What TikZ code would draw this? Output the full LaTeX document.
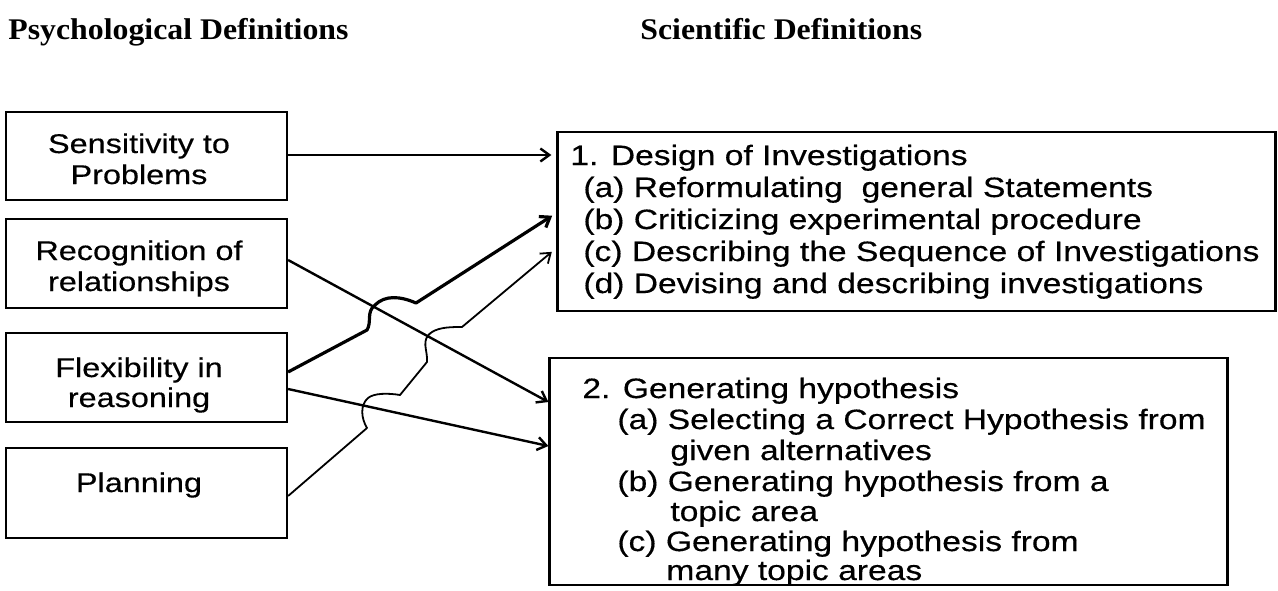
\documentclass[tikz,border=0pt]{standalone}
\usepackage{fontspec}
\setmainfont{Liberation Sans}
\newfontfamily\bodyfont[FakeStretch=1.2,FakeBold=0.4]{Liberation Sans}
\newfontfamily\headfont[FakeStretch=1.06]{Liberation Serif}
\usetikzlibrary{arrows.meta}
\begin{document}
\begin{tikzpicture}[x=0.5pt,y=-0.5pt,
  box/.style={draw, line width=1.1pt, rectangle, inner sep=0pt},
  lbox/.style={box, minimum width=140.5pt},
  txt/.style={inner sep=0pt, font=\bodyfont\fontsize{14}{16}\selectfont},
  ltxt/.style={inner sep=0pt, anchor=base, font=\bodyfont\fontsize{13.5}{15}\selectfont},
  rtxt/.style={txt, anchor=base west},
  head/.style={inner sep=0pt, anchor=base west, font=\headfont\bfseries\fontsize{15}{17}\selectfont},
  conn/.style={line width=1.2pt, line join=round, -{Straight Barb[length=4.5pt,width=6.5pt]}},
  thick conn/.style={conn, line width=1.6pt},
  thin conn/.style={conn, line width=0.9pt}
]
\useasboundingbox (0,0) rectangle (1278,590);
\fill[white] (0,0) rectangle (1278,590);

% titles
\node[head] (t1) at (8,39) {Psychological Definitions};
\node[head] (t2) at (640,39) {Scientific Definitions};

% left boxes
\node[lbox, minimum height=44pt]   (s) at (146.5,156)   {};
\node[lbox, minimum height=44.5pt] (r) at (146.5,263.5) {};
\node[lbox, minimum height=44.5pt] (f) at (146.5,377.5) {};
\node[lbox, minimum height=45pt]   (p) at (146.5,493)   {};

\node[ltxt] (s1) at (139,153) {Sensitivity to};
\node[ltxt] (s2) at (139,184) {Problems};
\node[ltxt] (r1) at (139,260) {Recognition of};
\node[ltxt] (r2) at (139,291) {relationships};
\node[ltxt] (f1) at (139,377) {Flexibility in};
\node[ltxt] (f2) at (139,407) {reasoning};
\node[ltxt] (p1) at (139,492) {Planning};

% right boxes
\node[box, minimum width=359pt, minimum height=89.5pt] (d) at (916.5,221.5) {};
\node[box, minimum width=339pt, minimum height=113.5pt] (g) at (888.5,471.5) {};

\node[rtxt] (d0) at (570,165) {1. Design of Investigations};
\node[rtxt] (da) at (583,197) {(a) Reformulating\ \ general Statements};
\node[rtxt] (db) at (583,229) {(b) Criticizing experimental procedure};
\node[rtxt] (dc) at (583,261) {(c) Describing the Sequence of Investigations};
\node[rtxt] (dd) at (583,293) {(d) Devising and describing investigations};

\node[rtxt] (g0) at (582,398) {2. Generating hypothesis};
\node[rtxt] (ga) at (617,429) {(a) Selecting a Correct Hypothesis from};
\node[rtxt] (ga2) at (670,460) {given alternatives};
\node[rtxt] (gb) at (617,491) {(b) Generating hypothesis from a};
\node[rtxt] (gb2) at (670,521) {topic area};
\node[rtxt] (gc) at (617,551) {(c) Generating hypothesis from};
\node[rtxt] (gc2) at (666,580) {many topic areas};

% connectors
\draw[conn, shorten >=2.5pt] (s.east |- 0,155) -- (d.west |- 0,155);
\draw[conn] (r.east |- 0,260) -- (g.west |- 0,402);
\draw[conn] (f.east |- 0,389) -- (g.west |- 0,446);
\draw[thick conn, shorten >=2.5pt] (f.east |- 0,372) -- (367,330)
   .. controls (372,322) and (366,312) .. (375,305)
   .. controls (385,295) and (400,296) .. (416,303)
   -- (d.west |- 0,213);
\draw[thin conn, shorten >=3pt] (p.east |- 0,496) -- (367,428)
   .. controls (361,418) and (360,405) .. (368,398)
   .. controls (374,393) and (388,393) .. (400,395)
   -- (427,362)
   .. controls (428,350) and (420,340) .. (432,332)
   .. controls (440,327) and (452,327) .. (462,327)
   -- (d.west |- 0,248);
\end{tikzpicture}
\end{document}
